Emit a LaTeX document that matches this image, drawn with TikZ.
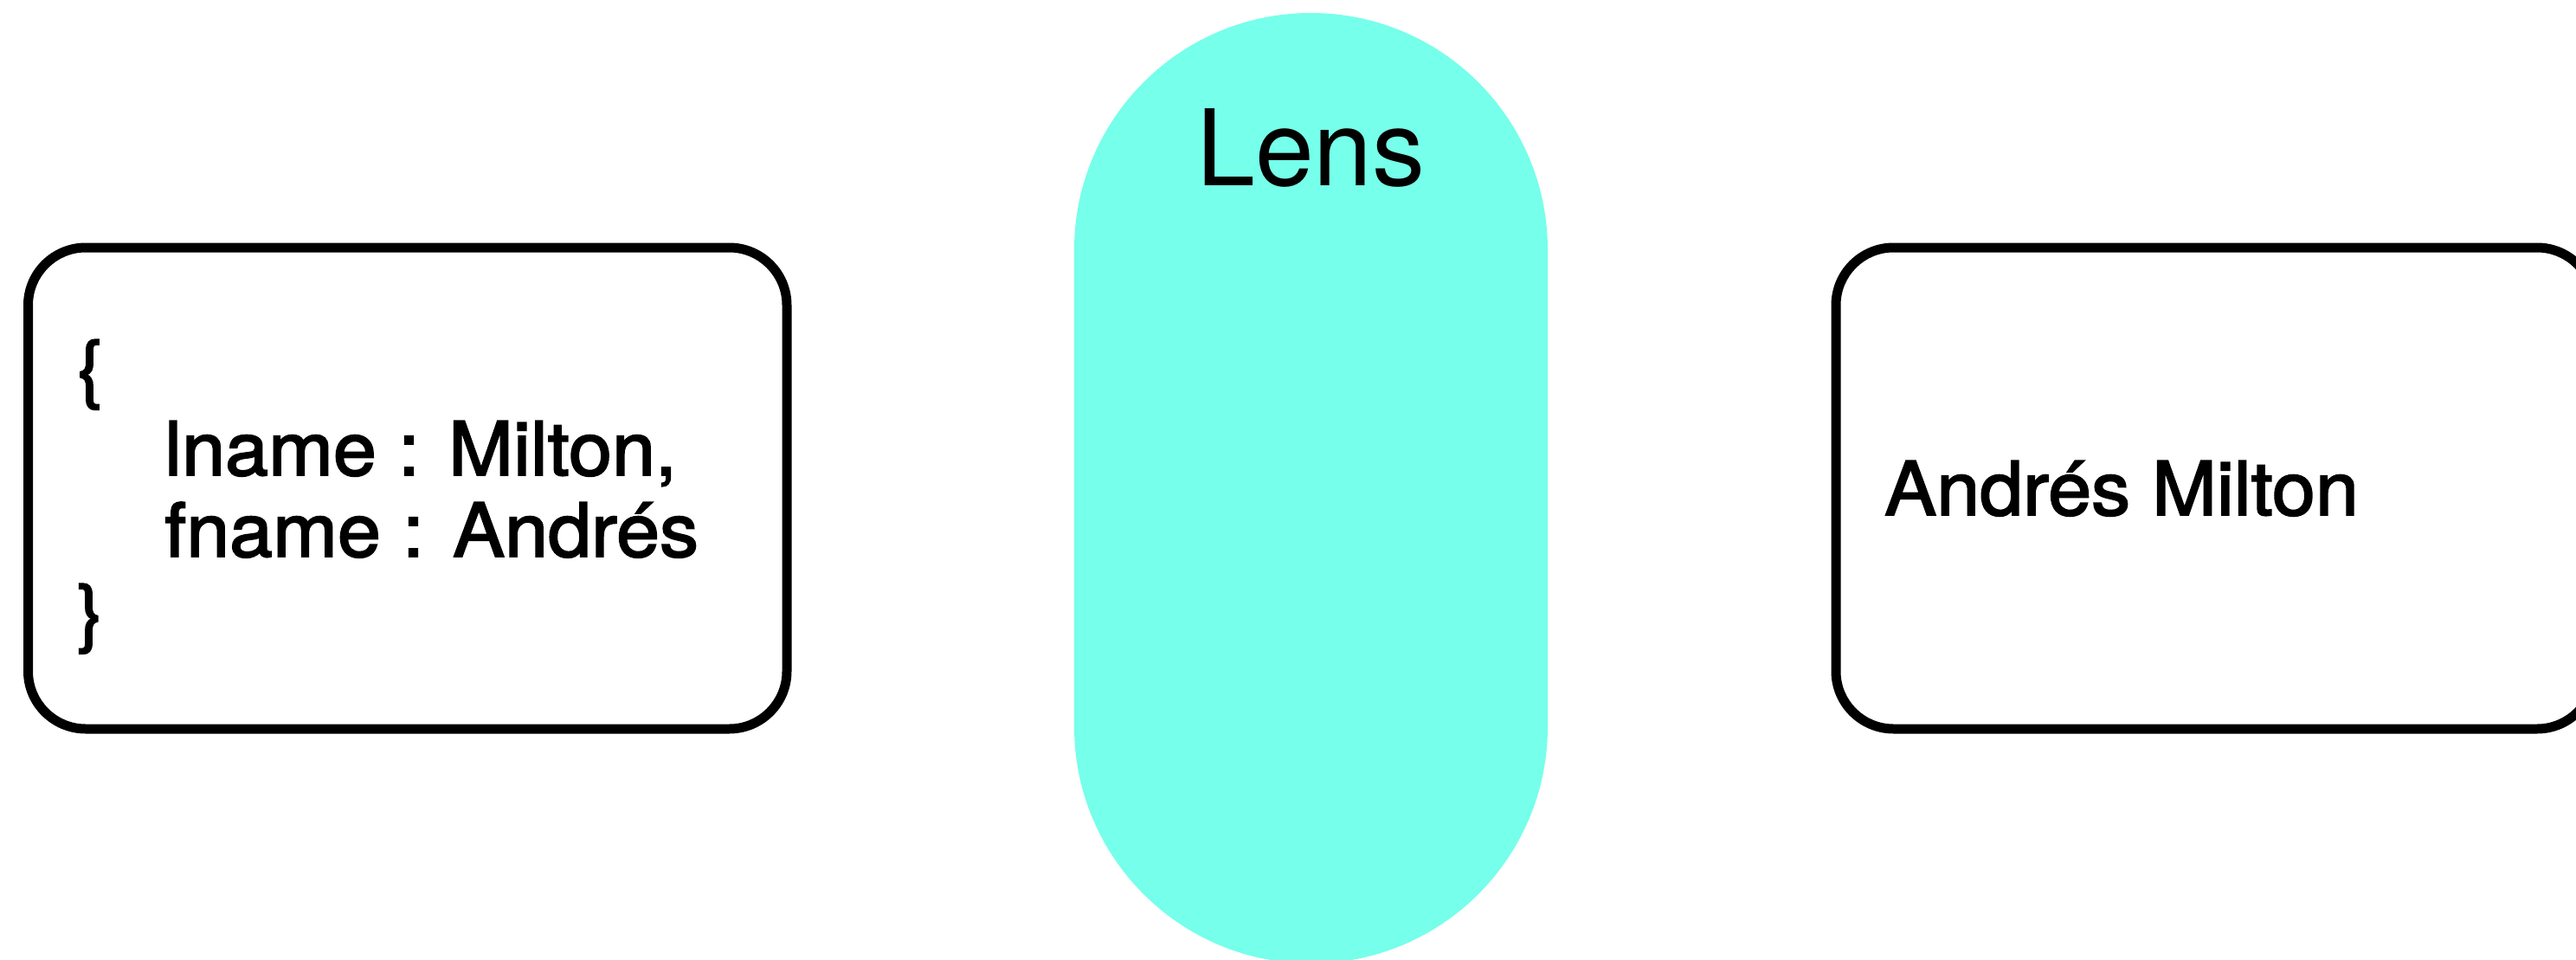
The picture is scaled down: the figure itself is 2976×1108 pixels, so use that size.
\documentclass[tikz,border=0pt]{standalone}
\usepackage{fontspec}
\setmainfont{TeX Gyre Heros}
\newfontfamily\medfont[FakeBold=2.2,FakeStretch=1.045]{TeX Gyre Heros}
\definecolor{lensc}{RGB}{118,255,234}
\begin{document}
\begin{tikzpicture}[x=1pt,y=-1pt,
  ring/.style={fill=black,even odd rule},
  txt/.style={inner sep=0pt,anchor=base west,font=\medfont\fontsize{86}{104}\selectfont},
  lenstxt/.style={inner sep=0pt,anchor=base,font=\fontsize{122}{146}\selectfont}]
\useasboundingbox (0,0) rectangle (2976,1108);
\clip (0,0) rectangle (2976,1108);
\fill[white] (0,0) rectangle (2976,1108);
% lens
\fill[lensc, rounded corners=273.5pt] (1241,15) rectangle (1788,1113);
\node[lenstxt] (lens) at (1514.5,214) {Lens};
% left box
\fill[ring] [rounded corners=72pt] (27,280.5) rectangle (914.5,847.5)
            [rounded corners=61pt] (38,291.5) rectangle (903.5,836.5);
\node[txt] (lb1) at (89,455) {\{};
\node[txt] (lb2) at (190,549) {lname : Milton,};
\node[txt] (lb3) at (190,643) {fname : Andrés};
\node[txt] (lb4) at (89,737) {\}};
% right box
\fill[ring] [rounded corners=72pt] (2115.5,280.5) rectangle (3003,847.5)
            [rounded corners=61pt] (2126.5,291.5) rectangle (2992,836.5);
\node[txt] (rt) at (2177,595) {Andrés Milton};
\end{tikzpicture}
\end{document}
